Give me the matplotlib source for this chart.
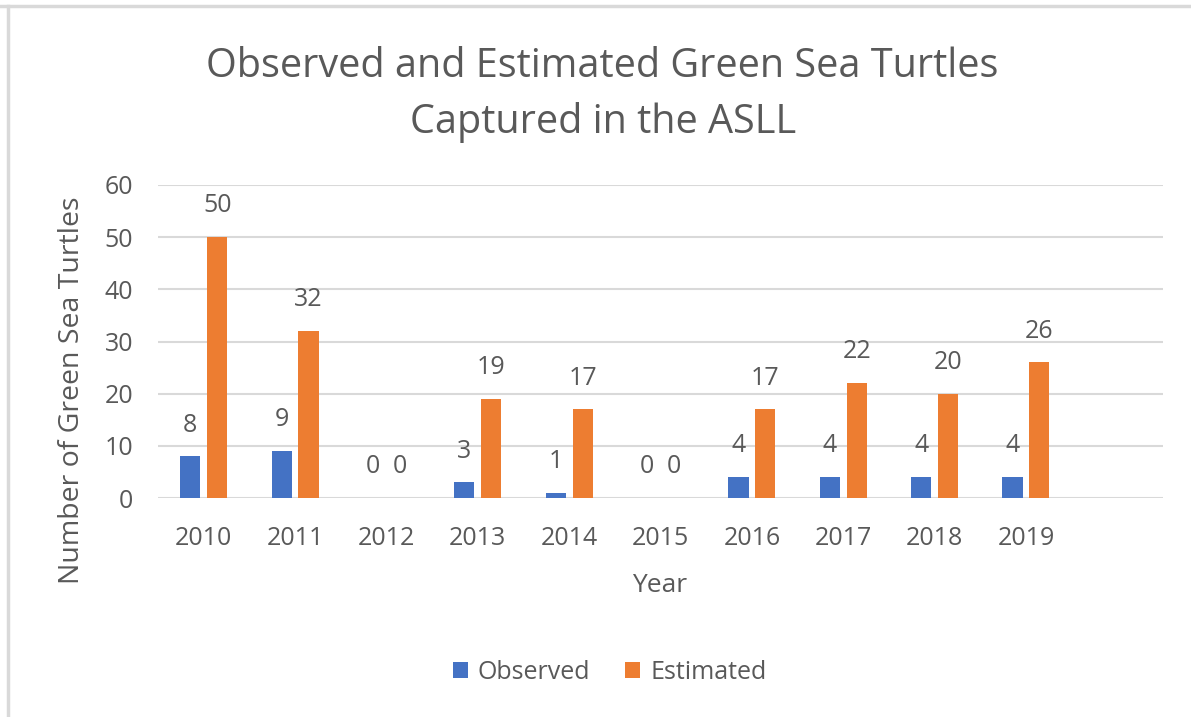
import matplotlib.pyplot as plt
from matplotlib.lines import Line2D
import numpy as np

# Green sea turtle captures per year
years = ["2010", "2011", "2012", "2013", "2014", "2015", "2016", "2017", "2018", "2019", ""]
observed = [8, 9, 0, 3, 1, 0, 4, 4, 4, 4, None]
estimated = [50, 32, 0, 19, 17, 0, 17, 22, 20, 26, None]

blue = "#4472C4"
orange = "#ED7D31"
txt = "#595959"

plt.rcParams["font.family"] = ["Open Sans", "DejaVu Sans"]

fig = plt.figure(figsize=(11.91, 7.17), dpi=100)
ax = fig.add_axes([0.1327, 0.3054, 0.8438, 0.4366])

x = np.arange(len(years))
w = 0.22
shift = 0.147
obs_vals = [v if v is not None else 0 for v in observed]
est_vals = [v if v is not None else 0 for v in estimated]
ax.bar(x - shift, obs_vals, w, color=blue, label="Observed", zorder=3)
ax.bar(x + shift, est_vals, w, color=orange, label="Estimated", zorder=3)

# value labels above each bar
for i in range(len(years)):
    if observed[i] is not None:
        ax.annotate(str(observed[i]), (x[i] - shift, observed[i]), xytext=(0, 22.5),
                    textcoords="offset points", ha="center", va="center",
                    fontsize=18, color=txt)
    if estimated[i] is not None:
        ax.annotate(str(estimated[i]), (x[i] + shift, estimated[i]), xytext=(0, 22.5),
                    textcoords="offset points", ha="center", va="center",
                    fontsize=18, color=txt)

ax.set_xlim(-0.5, len(years) - 0.5)
ax.set_ylim(0, 60)
ax.set_yticks(range(0, 61, 10))
ax.set_xticks(x)
ax.set_xticklabels(years)
ax.grid(axis="y", color="#D9D9D9", linewidth=1.5, zorder=0)
for s in ax.spines.values():
    s.set_visible(False)
ax.tick_params(length=0, labelsize=18, colors=txt)
ax.tick_params(axis="x", pad=20)
ax.tick_params(axis="y", pad=18)

fig.text(0.554, 0.184, "Year", ha="center", va="center", fontsize=19, color=txt)
fig.text(0.0605, 0.456, "Number of Green Sea Turtles", ha="center", va="center",
         rotation=90, fontsize=20.5, color=txt)
fig.text(0.506, 0.868, "Observed and Estimated Green Sea Turtles\nCaptured in the ASLL",
         ha="center", va="center", fontsize=28.5, color=txt, linespacing=1.5)

leg = fig.legend(loc="center", bbox_to_anchor=(0.512, 0.062), ncol=2, frameon=False,
                 fontsize=18, handlelength=0.6, handleheight=0.6, columnspacing=1.4,
                 handletextpad=0.4)
for t in leg.get_texts():
    t.set_color(txt)

# chart border (top and left edges)
fig.add_artist(Line2D([0, 1], [0.9916, 0.9916], transform=fig.transFigure,
                      color="#D9D9D9", linewidth=2.5))
fig.add_artist(Line2D([0.0067, 0.0067], [0, 0.9916], transform=fig.transFigure,
                      color="#D9D9D9", linewidth=2.5))

fig.savefig("out.png", dpi=100)
